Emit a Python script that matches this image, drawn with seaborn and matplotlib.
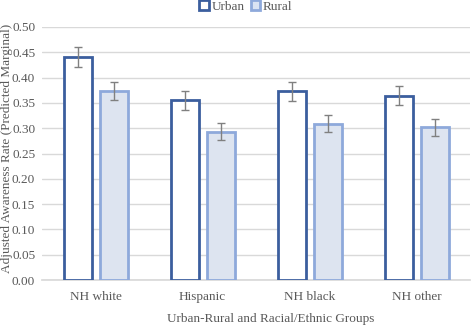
import matplotlib
matplotlib.use("Agg")
import matplotlib.pyplot as plt
import seaborn as sns
import pandas as pd
import numpy as np
from matplotlib.patches import Patch

groups = ["NH white", "Hispanic", "NH black", "NH other"]
series = ["Urban", "Rural"]
urban = [0.441, 0.355, 0.373, 0.364]
rural = [0.374, 0.293, 0.309, 0.302]
urban_err = [0.020, 0.019, 0.019, 0.019]
rural_err = [0.018, 0.017, 0.017, 0.017]
yticks = [0.00, 0.05, 0.10, 0.15, 0.20, 0.25, 0.30, 0.35, 0.40, 0.45, 0.50]

df = pd.DataFrame({
    "group": groups * 2,
    "area": ["Urban"] * 4 + ["Rural"] * 4,
    "rate": urban + rural,
})

sns.set_theme(style="white")
plt.rcParams["font.family"] = ["Liberation Serif", "DejaVu Serif"]
text_color = "#595959"
fs = 9.5

fig = plt.figure(figsize=(4.73, 3.28), dpi=100)
ax = fig.add_axes([0.089, 0.146, 0.905, 0.772])

face = {"Urban": "#FFFFFF", "Rural": "#DAE3F3"}
edge = {"Urban": "#3B5E9E", "Rural": "#8EA9DB"}

sns.barplot(data=df, x="group", y="rate", hue="area", order=groups,
            hue_order=series, palette=face, errorbar=None, width=0.67,
            gap=0.22, ax=ax, legend=False, zorder=3)

errs = {"Urban": urban_err, "Rural": rural_err}
vals = {"Urban": urban, "Rural": rural}
for cont, s in zip(ax.containers, series):
    xs = []
    for p in cont.patches:
        p.set_edgecolor(edge[s])
        p.set_linewidth(2.0)
        xs.append(p.get_x() + p.get_width() / 2)
    ax.errorbar(xs, vals[s], yerr=errs[s], fmt="none", ecolor="#808080",
                elinewidth=1.0, capsize=3, capthick=1.0, zorder=4)

ax.set_ylim(0, 0.5)
ax.set_yticks(yticks)
ax.set_yticklabels([f"{t:.2f}" for t in yticks], color=text_color, fontsize=fs)
ax.set_xlim(-0.5, 3.5)
ax.tick_params(axis="x", colors=text_color, labelsize=fs, length=0, pad=8)
ax.tick_params(axis="y", length=0, pad=5)
ax.grid(axis="y", color="#D9D9D9", linewidth=1.0, zorder=0)
ax.set_axisbelow(True)
for sp in ["top", "right", "left"]:
    ax.spines[sp].set_visible(False)
ax.spines["bottom"].set_color("#D9D9D9")
ax.set_xlabel("Urban-Rural and Racial/Ethnic Groups", color=text_color,
              fontsize=fs)
ax.xaxis.set_label_coords(0.535, -0.13)
ax.set_ylabel("Adjusted Awareness Rate (Predicted Marginal)", color=text_color,
              fontsize=fs)
ax.yaxis.set_label_coords(-0.068, 0.52)

handles = [Patch(facecolor=face[s], edgecolor=edge[s], linewidth=2.0, label=s)
           for s in series]
fig.legend(handles=handles, loc="upper center", bbox_to_anchor=(0.52, 1.035),
           ncol=2, frameon=False, fontsize=fs, handlelength=0.7,
           handleheight=0.7, handletextpad=0.2, columnspacing=0.5,
           labelcolor=text_color)

fig.savefig("out.png", dpi=100)
